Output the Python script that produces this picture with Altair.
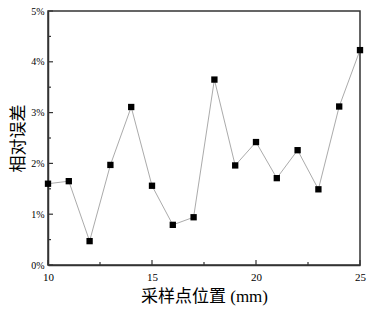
import altair as alt
import pandas as pd

positions = [10, 11, 12, 13, 14, 15, 16, 17, 18, 19, 20, 21, 22, 23, 24, 25]
errors = [1.60, 1.65, 0.47, 1.97, 3.11, 1.56, 0.79, 0.94, 3.65, 1.96, 2.42, 1.71, 2.26, 1.49, 3.12, 4.23]

x_major = [10, 15, 20, 25]
x_minor = [12.5, 17.5, 22.5]
y_major = [0, 1, 2, 3, 4, 5]
y_minor = [0.5, 1.5, 2.5, 3.5, 4.5]

df = pd.DataFrame({"x": positions, "y": errors})

W, H = 312, 254
FONT = "Liberation Serif, Noto Sans CJK SC"

xs = alt.Scale(domain=[10, 25], nice=False, zero=False)
ys = alt.Scale(domain=[0, 5], nice=False, zero=True)

x_enc = alt.X("x:Q", scale=xs, axis=alt.Axis(
    title="采样点位置 (mm)", values=x_major, format="d", ticks=False, grid=False,
    labelFlush=False, domainColor="#333333", domainWidth=1.5, labelFont=FONT,
    labelFontSize=11, labelColor="#000000", labelPadding=6, titleFont=FONT,
    titleFontSize=17, titleFontWeight="normal", titleColor="#000000", titlePadding=6))
y_enc = alt.Y("y:Q", scale=ys, axis=alt.Axis(
    title="相对误差", values=y_major, labelExpr="datum.value + '%'", ticks=False,
    grid=False, labelFlush=False, domainColor="#333333", domainWidth=1.5, labelFont=FONT,
    labelFontSize=10, labelColor="#000000", labelPadding=4, titleFont=FONT,
    titleFontSize=17, titleFontWeight="normal", titleColor="#000000",
    titlePadding=3))

line = alt.Chart(df).mark_line(color="#a0a0a0", strokeWidth=0.9).encode(x=x_enc, y=y_enc)
pts = alt.Chart(df).mark_point(shape="square", filled=True, color="#000000", size=40, opacity=1).encode(
    x=alt.X("x:Q", scale=xs), y=alt.Y("y:Q", scale=ys))

xmaj = alt.Chart(pd.DataFrame({"x": x_major})).mark_rule(color="#333333", strokeWidth=1.2).encode(
    x=alt.X("x:Q", scale=xs), y=alt.value(H), y2=alt.value(H - 5))
xmin = alt.Chart(pd.DataFrame({"x": x_minor})).mark_rule(color="#333333", strokeWidth=1.2).encode(
    x=alt.X("x:Q", scale=xs), y=alt.value(H), y2=alt.value(H - 3))
ymaj = alt.Chart(pd.DataFrame({"y": y_major})).mark_rule(color="#333333", strokeWidth=1.2).encode(
    y=alt.Y("y:Q", scale=ys), x=alt.value(0), x2=alt.value(5))
ymin = alt.Chart(pd.DataFrame({"y": y_minor})).mark_rule(color="#333333", strokeWidth=1.2).encode(
    y=alt.Y("y:Q", scale=ys), x=alt.value(0), x2=alt.value(3))

chart = alt.layer(line, xmaj, xmin, ymaj, ymin, pts).properties(
    width=W, height=H,
    autosize=alt.AutoSizeParams(type="none"),
    padding={"left": 48, "top": 11, "right": 13, "bottom": 48},
    background="#ffffff",
).configure_view(stroke="#333333", strokeWidth=1.5)

chart.save("out.html", embed_options={"renderer": "svg", "actions": False})
